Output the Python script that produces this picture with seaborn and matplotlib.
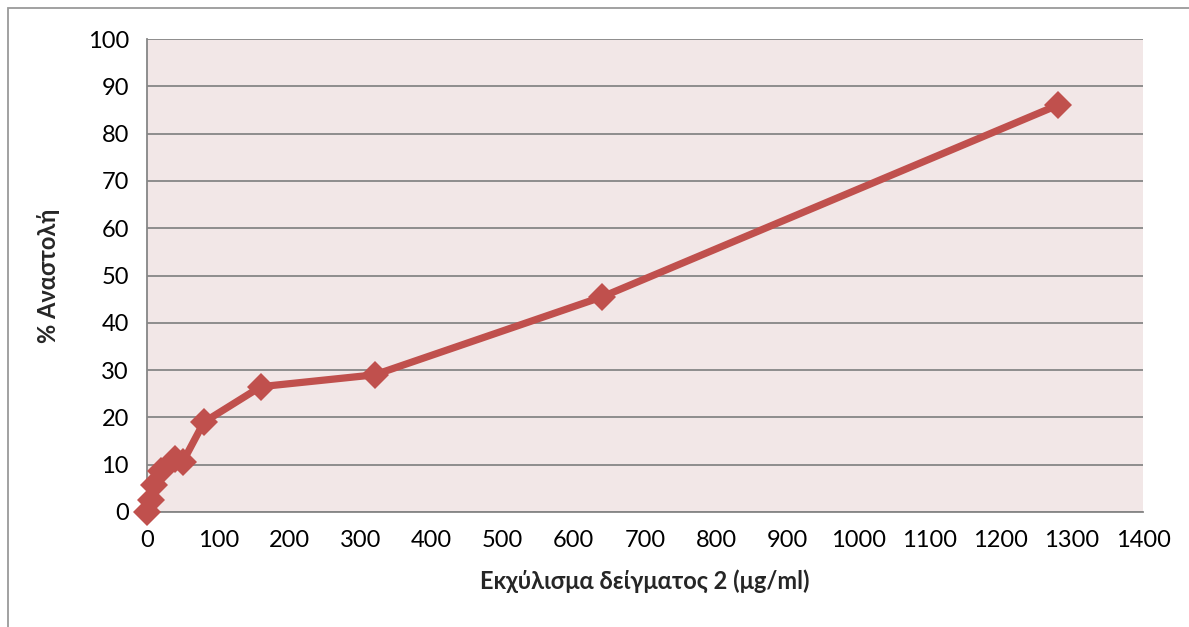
import matplotlib
matplotlib.use("Agg")
import matplotlib.pyplot as plt
import seaborn as sns
import pandas as pd
from matplotlib.patches import Rectangle

# data
conc = [0, 5, 10, 20, 40, 50, 80, 160, 320, 640, 1280]
inhibition = [0, 2.5, 5.8, 8.7, 11.2, 10.5, 19.0, 26.5, 29.0, 45.5, 86.0]

RED = "#C0504D"
PINK_BG = "#F2E7E7"
GRID = "#868686"

df = pd.DataFrame({"conc": conc, "inh": inhibition})

sns.set_style("white")
plt.rcParams["font.family"] = ["Lato", "DejaVu Sans"]

fig = plt.figure(figsize=(11.89, 6.27), dpi=100)
ax = fig.add_axes([147 / 1189, 1 - 512 / 627, (1143 - 147) / 1189, (512 - 39) / 627])

# outer chart border
fig.patches.append(Rectangle((8 / 1189, -0.1), 1.2, 1 - 8 / 627 + 0.1,
                             transform=fig.transFigure, fill=False,
                             edgecolor="#9A9A9A", linewidth=1.3))

ax.set_facecolor(PINK_BG)
sns.lineplot(data=df, x="conc", y="inh", ax=ax, color=RED, linewidth=5.2,
             marker="D", markersize=14, markeredgewidth=0, sort=False,
             clip_on=False, zorder=5)

ax.set_xlim(0, 1400)
ax.set_ylim(0, 100)
ax.set_xticks(range(0, 1401, 100))
ax.set_yticks(range(0, 101, 10))
ax.tick_params(axis="both", length=0, labelsize=17, colors="black")
ax.tick_params(axis="x", pad=13)
ax.tick_params(axis="y", pad=13)
ax.yaxis.grid(True, color=GRID, linewidth=1.3)
ax.set_axisbelow(True)

for s in ["top", "right"]:
    ax.spines[s].set_visible(False)
for s in ["left", "bottom"]:
    ax.spines[s].set_color(GRID)
    ax.spines[s].set_linewidth(1.3)

ax.set_xlabel("Εκχύλισμα δείγματος 2 (μg/ml)", fontsize=17, fontweight="bold", labelpad=13)
ax.set_ylabel("% Αναστολή", fontsize=17, fontweight="bold", labelpad=20)

fig.savefig("out.png", dpi=100)
